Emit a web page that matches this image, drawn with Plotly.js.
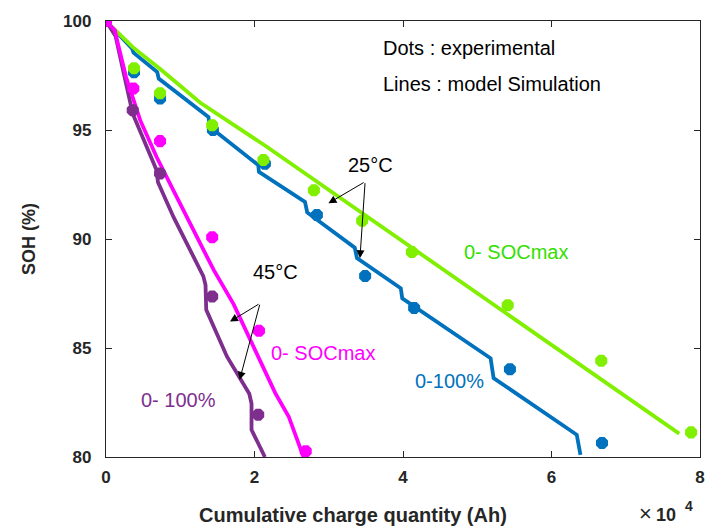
<!DOCTYPE html>
<html>
<head>
<meta charset="utf-8">
<script src="https://cdn.plot.ly/plotly-3.0.1.min.js"></script>
<style>
html,body{margin:0;padding:0;background:#fff;}
#chart{width:705px;height:529px;}
</style>
</head>
<body>
<div id="chart"></div>
<script>
// Cumulative charge (x 10^4 Ah) and SOH (%)
// 25°C, 0-SOCmax (green)
const greenExpX = [0, 0.377, 0.728, 1.43, 2.12, 2.80, 3.45, 4.12, 5.41, 6.67, 7.88];
const greenExpY = [100, 97.83, 96.69, 95.22, 93.62, 92.24, 90.84, 89.40, 86.96, 84.41, 81.13];
const greenSimX = [0, 0.36, 0.73, 1.27, 2.17, 4.50, 7.72];
const greenSimY = [100, 98.8, 97.8, 96.25, 94.22, 88.72, 81.07];

// 25°C, 0-100% (blue)
const blueExpX = [0, 0.377, 0.728, 1.44, 2.14, 2.84, 3.49, 4.15, 5.44, 6.68];
const blueExpY = [100, 97.65, 96.45, 95.0, 93.45, 91.10, 88.3, 86.83, 84.03, 80.64];
const blueSimX = [0, 0.35, 0.37, 0.69, 0.71, 1.38, 1.40, 2.05, 2.06, 2.68, 2.71, 3.35, 3.38, 3.97, 3.99, 5.18, 5.22, 6.34, 6.39];
const blueSimY = [100, 98.74, 98.55, 97.66, 97.36, 95.6, 95.14, 93.39, 93.08, 91.7, 91.22, 89.6, 89.12, 87.74, 87.28, 84.53, 83.62, 81.02, 80.1];

// 45°C, 0-SOCmax (magenta)
const magExpX = [0, 0.368, 0.728, 1.43, 2.06, 2.69];
const magExpY = [100, 96.90, 94.49, 90.08, 85.79, 80.26];
const magSimX = [0, 0.12, 0.16, 0.27, 0.46, 0.68, 0.95, 1.45, 1.72, 2.28, 2.46, 2.66];
const magSimY = [100, 99.57, 98.96, 97.43, 95.45, 93.77, 91.94, 88.58, 87.0, 82.93, 81.86, 80.0];

// 45°C, 0-100% (purple)
const purExpX = [0, 0.36, 0.728, 1.43, 2.05];
const purExpY = [100, 95.91, 93.0, 87.36, 81.94];
const purSimX = [0, 0.13, 0.22, 0.33, 0.36, 0.68, 0.70, 0.91, 1.31, 1.34, 1.35, 1.63, 1.93, 1.96, 1.96, 2.14];
const purSimY = [100, 99.3, 97.9, 96.3, 95.75, 93.16, 92.6, 91.0, 88.3, 87.9, 86.75, 84.6, 82.9, 82.45, 81.25, 80.0];

const xTicks = [0, 2, 4, 6, 8];
const yTicks = [80, 85, 90, 95, 100];

const GREEN = '#80f000', GREEN_TXT = '#33e000', BLUE = '#0072bd', MAG = '#ff00ff', PUR = '#7e2f8e';

function line(x, y, c) {
  return {x: x, y: y, mode: 'lines', type: 'scatter', line: {color: c, width: 3.8}, hoverinfo: 'skip'};
}
function dots(x, y, c) {
  return {x: x, y: y, mode: 'markers', type: 'scatter', marker: {color: c, symbol: 'octagon', size: 13}, hoverinfo: 'skip'};
}

const data = [
  line(blueSimX, blueSimY, BLUE),
  line(greenSimX, greenSimY, GREEN),
  line(purSimX, purSimY, PUR),
  line(magSimX, magSimY, MAG),
  dots(blueExpX, blueExpY, BLUE),
  dots(greenExpX, greenExpY, GREEN),
  dots(purExpX, purExpY, PUR),
  dots(magExpX, magExpY, MAG)
];

const F = 'Liberation Sans, Arial, sans-serif';
function txt(x, y, t, c, anchor) {
  return {x: x, y: y, xref: 'x', yref: 'y', text: t, showarrow: false,
    xanchor: anchor || 'left', yanchor: 'middle', font: {family: F, size: 20, color: c}};
}
function arrow(hx, hy, tx, ty) {
  return {x: hx, y: hy, ax: tx, ay: ty, xref: 'x', yref: 'y', axref: 'x', ayref: 'y',
    text: '', showarrow: true, arrowhead: 2, arrowsize: 1.6, arrowwidth: 1, arrowcolor: '#000'};
}

const annotations = [
  txt(3.71, 98.75, 'Dots : experimental', '#000'),
  txt(3.71, 97.10, 'Lines : model Simulation', '#000'),
  txt(3.56, 93.39, '25°C', '#000', 'center'),
  txt(2.28, 88.49, '45°C', '#000', 'center'),
  txt(4.79, 89.40, '0- SOCmax', GREEN_TXT),
  txt(2.19, 84.77, '0- SOCmax', MAG),
  txt(4.14, 83.49, '0-100%', BLUE),
  txt(0.44, 82.62, '0- 100%', PUR),
  arrow(2.996, 91.64, 3.49, 92.63),
  arrow(3.42, 89.12, 3.49, 92.63),
  arrow(1.67, 86.21, 2.075, 87.05),
  arrow(1.80, 83.54, 2.075, 87.05),
  {x: 0.416, y: -0.133, xref: 'paper', yref: 'paper', text: 'Cumulative charge quantity (Ah)',
   showarrow: false, xanchor: 'center', yanchor: 'middle',
   font: {family: F, size: 20, color: '#262626', weight: 'bold'}},
  {x: 0.908, y: -0.161, xref: 'paper', yref: 'paper', text: '×', showarrow: false,
   xanchor: 'center', yanchor: 'bottom', borderpad: 0, font: {family: F, size: 22, color: '#262626'}},
  {x: 0.943, y: -0.132, xref: 'paper', yref: 'paper', text: '10', showarrow: false,
   xanchor: 'center', yanchor: 'middle', font: {family: F, size: 18, color: '#262626', weight: 'bold'}},
  {x: 0.982, y: -0.113, xref: 'paper', yref: 'paper', text: '4', showarrow: false,
   xanchor: 'center', yanchor: 'middle', font: {family: F, size: 14, color: '#262626', weight: 'bold'}}
];

const axisCommon = {
  showgrid: false, zeroline: false, showline: true, linecolor: '#262626', linewidth: 1.2,
  mirror: 'ticks', ticks: 'inside', ticklen: 6, tickcolor: '#262626', tickwidth: 1,
  tickfont: {family: F, size: 17, color: '#262626', weight: 'bold'}
};

const layout = {
  width: 705, height: 529,
  margin: {l: 106, r: 5, t: 21, b: 72},
  paper_bgcolor: '#fff', plot_bgcolor: '#fff',
  showlegend: false,
  xaxis: Object.assign({}, axisCommon, {range: [0, 8], tickvals: xTicks, ticktext: xTicks.map(String), ticklabelstandoff: 4}),
  yaxis: Object.assign({}, axisCommon, {range: [80, 100], tickvals: yTicks, ticktext: yTicks.map(String), ticklabelstandoff: 10,
    title: {text: 'SOH (%)', standoff: 22, font: {family: F, size: 18, color: '#262626', weight: 'bold'}}}),
  annotations: annotations
};

Plotly.newPlot('chart', data, layout, {displayModeBar: false, staticPlot: true});
</script>
</body>
</html>
